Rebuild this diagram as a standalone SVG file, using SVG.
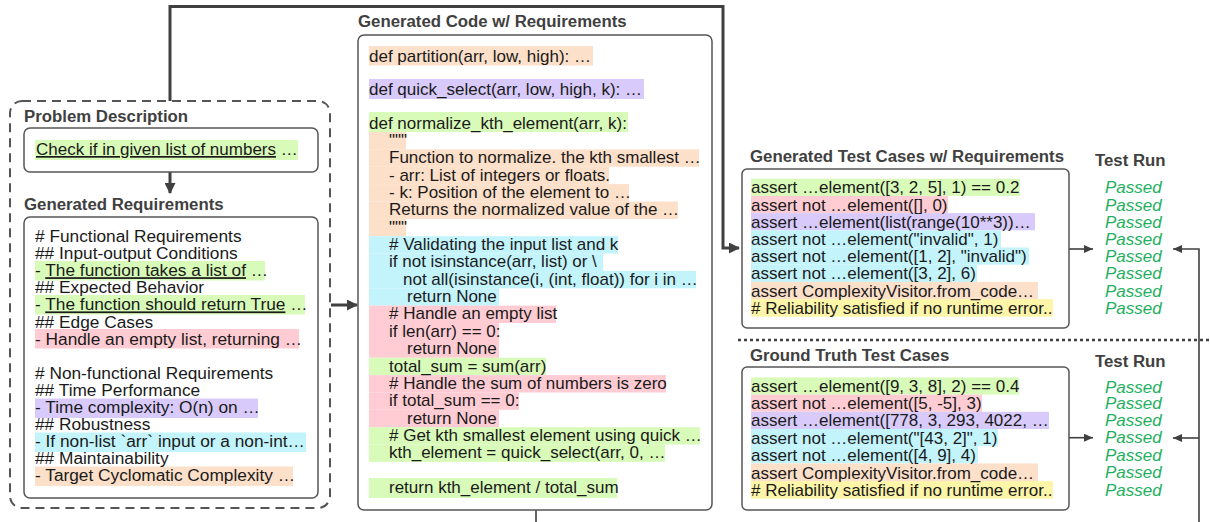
<svg xmlns="http://www.w3.org/2000/svg" width="1210" height="522" viewBox="0 0 1210 522">
<defs>
<style>
.t{font-family:"Liberation Sans",Arial,sans-serif;font-size:17px;fill:#1a1a1a}
.rq{font-size:17.3px}
.h{font-family:"Liberation Sans",Arial,sans-serif;font-size:16.8px;font-weight:bold;fill:#404040}
.p{font-family:"Liberation Sans",Arial,sans-serif;font-size:17px;font-style:italic;fill:#22b060}
.box{fill:#fff;stroke:#555;stroke-width:1.5}
.g{fill:#d9fbb9}.r{fill:#ffccd4}.v{fill:#d8cbfb}.c{fill:#c3f4fc}.o{fill:#fde0c9}.y{fill:#fdf5a8}
.thick{fill:none;stroke:#404040;stroke-width:3}
.thin{fill:none;stroke:#404040;stroke-width:1.6}
.u{text-decoration:underline}
</style>
<marker id="ah" markerUnits="userSpaceOnUse" markerWidth="11" markerHeight="11" viewBox="0 0 11 11" refX="10" refY="5.5" orient="auto"><path d="M0,0 L11,5.5 L0,11 Z" fill="#404040"/></marker>
<marker id="as" markerUnits="userSpaceOnUse" markerWidth="9" markerHeight="8" viewBox="0 0 9 8" refX="9" refY="4" orient="auto"><path d="M0,0 L9,4 L0,8 Z" fill="#404040"/></marker>
</defs>

<g id="connectors">
<path class="thick" d="M170,101 V6.5 H723 V248 H739" marker-end="url(#ah)"/>
<path class="thick" d="M170,172 V193" marker-end="url(#ah)"/>
<path class="thick" d="M331,305 H357" marker-end="url(#ah)"/>
<path class="thin" d="M1069,249 H1093" marker-end="url(#as)"/>
<path class="thin" d="M1069,437.7 H1093" marker-end="url(#as)"/>
<path class="thin" d="M1199,522 V249 H1173" marker-end="url(#as)"/>
<path class="thin" d="M1199,438 H1173" marker-end="url(#as)"/>
<path class="thin" d="M536,510 V522"/>
<path d="M738,340 H1210" stroke="#404040" stroke-width="2.5" stroke-dasharray="3 3" fill="none"/>
</g>

<g id="requirement-group">
<rect x="10" y="101" width="320" height="407" rx="12" fill="none" stroke="#555" stroke-width="2" stroke-dasharray="9 6"/>
</g>

<g id="problem-description">
<text class="h" x="24" y="122">Problem Description</text>
<rect class="box" x="24" y="128" width="294" height="44" rx="6"/>
<rect class="g" x="35" y="140" width="263" height="20"/>
<text class="t" x="36" y="155"><tspan class="u">Check if in given list of numbers</tspan> …</text>
</g>

<g id="generated-requirements">
<text class="h" x="24" y="210">Generated Requirements</text>
<rect class="box" x="24" y="217" width="294" height="281" rx="6"/>
<rect class="g" x="35" y="261" width="230" height="19.5"/>
<rect class="g" x="35" y="295" width="270" height="19.5"/>
<rect class="r" x="35" y="329" width="264" height="19.5"/>
<rect class="v" x="35" y="398.5" width="223" height="19.5"/>
<rect class="c" x="35" y="432.5" width="271" height="19.5"/>
<rect class="o" x="35" y="466.5" width="258" height="19.5"/>
<text class="t rq" x="35" y="242">
<tspan x="35" y="242">#  Functional Requirements</tspan>
<tspan x="35" y="259.1">## Input-output Conditions</tspan>
<tspan x="35" y="276.2">- <tspan class="u">The function takes a list of</tspan> …</tspan>
<tspan x="35" y="293.3">## Expected Behavior</tspan>
<tspan x="35" y="310.4">- <tspan class="u">The function should return True</tspan> …</tspan>
<tspan x="35" y="327.5">## Edge Cases</tspan>
<tspan x="35" y="344.6">- Handle an empty list, returning …</tspan>
<tspan x="35" y="378.8">#  Non-functional Requirements</tspan>
<tspan x="35" y="395.9">## Time Performance</tspan>
<tspan x="35" y="413">- Time complexity: O(n) on …</tspan>
<tspan x="35" y="430.1">## Robustness</tspan>
<tspan x="35" y="447.2">- If  non-list `arr` input or a non-int…</tspan>
<tspan x="35" y="464.3">## Maintainability</tspan>
<tspan x="35" y="481.4">- Target Cyclomatic Complexity …</tspan>
</text>
</g>

<g id="generated-code">
<text class="h" x="358" y="27">Generated Code w/ Requirements</text>
<rect class="box" x="358" y="35" width="354" height="475" rx="6"/>
<rect class="o" x="369" y="46" width="224" height="19.5"/>
<rect class="v" x="369" y="79" width="275" height="20"/>
<rect class="g" x="369" y="112" width="259" height="20"/>
<rect class="o" x="369" y="132" width="37" height="17.5"/>
<rect class="o" x="369" y="149.4" width="330" height="17.4"/>
<rect class="o" x="369" y="166.8" width="240" height="17.4"/>
<rect class="o" x="369" y="184.1" width="260" height="17.4"/>
<rect class="o" x="369" y="201.5" width="309" height="17.4"/>
<rect class="o" x="369" y="218.9" width="37" height="17.4"/>
<rect class="c" x="369" y="236.2" width="249" height="17.4"/>
<rect class="c" x="369" y="253.6" width="234" height="17.4"/>
<rect class="c" x="369" y="270.9" width="327" height="17.4"/>
<rect class="c" x="369" y="288.3" width="130" height="17.4"/>
<rect class="r" x="369" y="305.6" width="187" height="17.4"/>
<rect class="r" x="369" y="323" width="130" height="34.8"/>
<rect class="g" x="369" y="357.7" width="177" height="17.4"/>
<rect class="r" x="369" y="375.1" width="297" height="17.4"/>
<rect class="r" x="369" y="392.4" width="150" height="17.4"/>
<rect class="r" x="369" y="409.8" width="130" height="17.4"/>
<rect class="g" x="369" y="427.2" width="331" height="17.4"/>
<rect class="g" x="369" y="444.5" width="296" height="17.4"/>
<rect class="g" x="369" y="478" width="248" height="20"/>
<text class="t">
<tspan x="369" y="62">def partition(arr, low, high): …</tspan>
<tspan x="369" y="95">def quick_select(arr, low, high, k):  …</tspan>
<tspan x="369" y="128.5">def normalize_kth_element(arr, k):</tspan>
<tspan x="389" y="145.9">"""</tspan>
<tspan x="389" y="163.2">Function to normalize. the kth smallest …</tspan>
<tspan x="389" y="180.6">- arr: List of integers or floats.</tspan>
<tspan x="389" y="197.9">- k: Position of the element to …</tspan>
<tspan x="389" y="215.3">Returns the normalized value of the …</tspan>
<tspan x="389" y="232.7">"""</tspan>
<tspan x="389" y="250">#  Validating the input list and k</tspan>
<tspan x="389" y="267.4">if not isinstance(arr, list) or \</tspan>
<tspan x="403" y="284.7">not all(isinstance(i, (int, float)) for  i in …</tspan>
<tspan x="407" y="302.1">return None</tspan>
<tspan x="389" y="319.4">#  Handle an empty list</tspan>
<tspan x="389" y="336.8">if len(arr) == 0:</tspan>
<tspan x="407" y="354.2">return None</tspan>
<tspan x="389" y="371.5">total_sum = sum(arr)</tspan>
<tspan x="389" y="388.9">#  Handle the sum of numbers is zero</tspan>
<tspan x="389" y="406.2">if total_sum ==  0:</tspan>
<tspan x="407" y="423.6">return None</tspan>
<tspan x="389" y="441">#  Get kth  smallest element using quick …</tspan>
<tspan x="389" y="458.3">kth_element = quick_select(arr, 0, …</tspan>
<tspan x="389" y="493">return kth_element / total_sum</tspan>
</text>
</g>

<g id="generated-tests">
<text class="h" x="750" y="162">Generated Test Cases w/ Requirements</text>
<rect class="box" x="742" y="169" width="327" height="159" rx="5"/>
<rect class="g" x="751" y="178.7" width="269" height="17.2"/>
<rect class="r" x="751" y="195.9" width="197" height="17.2"/>
<rect class="v" x="751" y="213.1" width="284" height="17.2"/>
<rect class="c" x="751" y="230.3" width="250" height="17.2"/>
<rect class="c" x="751" y="247.5" width="278" height="17.2"/>
<rect class="c" x="751" y="264.7" width="226" height="17.2"/>
<rect class="o" x="751" y="281.9" width="287" height="17.2"/>
<rect class="y" x="751" y="299.1" width="302" height="17.6"/>
<text class="t">
<tspan x="751" y="193.3">assert …element([3, 2, 5], 1) == 0.2</tspan>
<tspan x="751" y="210.5">assert not …element([], 0)</tspan>
<tspan x="751" y="227.7">assert …element(list(range(10**3))…</tspan>
<tspan x="751" y="244.9">assert not …element("invalid", 1)</tspan>
<tspan x="751" y="262.1">assert not …element([1, 2], "invalid")</tspan>
<tspan x="751" y="279.3">assert not …element([3, 2], 6)</tspan>
<tspan x="751" y="296.5">assert ComplexityVisitor.from_code…</tspan>
<tspan x="751" y="313.7"># Reliability satisfied if no runtime error..</tspan>
</text>
</g>

<g id="generated-test-run">
<text class="h" x="1095" y="166">Test Run</text>
<text class="p">
<tspan x="1105" y="193.3">Passed</tspan>
<tspan x="1105" y="210.5">Passed</tspan>
<tspan x="1105" y="227.7">Passed</tspan>
<tspan x="1105" y="244.9">Passed</tspan>
<tspan x="1105" y="262.1">Passed</tspan>
<tspan x="1105" y="279.3">Passed</tspan>
<tspan x="1105" y="296.5">Passed</tspan>
<tspan x="1105" y="313.7">Passed</tspan>
</text>
</g>

<g id="ground-truth-tests">
<text class="h" x="750" y="361">Ground  Truth Test Cases</text>
<rect class="box" x="742" y="367" width="327" height="143" rx="5"/>
<rect class="g" x="751" y="377.4" width="268" height="17.2"/>
<rect class="r" x="751" y="394.6" width="231" height="17.2"/>
<rect class="v" x="751" y="411.8" width="298" height="17.2"/>
<rect class="c" x="751" y="429" width="247" height="17.2"/>
<rect class="c" x="751" y="446.2" width="227" height="17.2"/>
<rect class="o" x="751" y="463.4" width="287" height="17.7"/>
<rect class="y" x="751" y="481.1" width="302" height="17.6"/>
<text class="t">
<tspan x="751" y="392">assert …element([9, 3, 8], 2) ==  0.4</tspan>
<tspan x="751" y="409.2">assert not …element([5, -5], 3)</tspan>
<tspan x="751" y="426.4">assert …element([778, 3, 293, 4022, …</tspan>
<tspan x="751" y="443.6">assert not …element("[43, 2]", 1)</tspan>
<tspan x="751" y="460.8">assert not …element([4, 9], 4)</tspan>
<tspan x="751" y="478.5">assert ComplexityVisitor.from_code…</tspan>
<tspan x="751" y="495.7"># Reliability satisfied if no runtime error..</tspan>
</text>
</g>

<g id="ground-truth-test-run">
<text class="h" x="1095" y="367">Test Run</text>
<text class="p">
<tspan x="1105" y="392.5">Passed</tspan>
<tspan x="1105" y="409.2">Passed</tspan>
<tspan x="1105" y="426.4">Passed</tspan>
<tspan x="1105" y="443.3">Passed</tspan>
<tspan x="1105" y="460.5">Passed</tspan>
<tspan x="1105" y="478.3">Passed</tspan>
<tspan x="1105" y="495.7">Passed</tspan>
</text>
</g>
</svg>
